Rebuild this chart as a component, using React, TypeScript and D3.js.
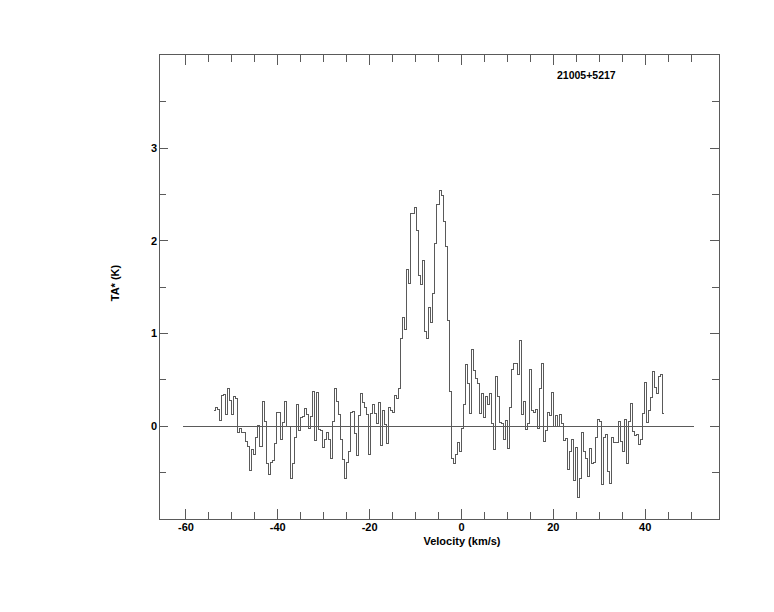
import React from "react";
import * as d3 from "d3";

// Spectrum: antenna temperature per channel (K)
const V_START = -53.95; // left edge of first channel (km/s)
const CHANNEL_WIDTH = 0.438; // km/s
const TA: number[] = [
  0.17, 0.2, 0.18, 0.06, 0.33, 0.34, 0.12, 0.41, 0.28, 0.12, 0.32, 0.3,
  -0.07, -0.03, -0.07, -0.07, -0.17, -0.22, -0.48, -0.25, -0.31, -0.12,
  0.01, -0.22, 0.26, 0.05, -0.41, -0.52, -0.39, -0.37, -0.19, 0.15,
  0.15, -0.15, 0.04, 0.26, -0.01, -0.01, -0.57, -0.4, -0.12, 0.23,
  -0.05, 0.09, 0.1, 0.19, 0.12, -0.03, 0.1, 0.37, -0.16, 0.36,
  -0.04, -0.05, -0.23, -0.15, -0.07, -0.15, -0.35, 0.05, 0.4, 0.26,
  0.12, -0.15, -0.36, -0.57, -0.39, -0.28, 0.15, 0.16, -0.08, -0.32,
  0.11, 0.35, 0.25, 0.2, 0.12, -0.31, 0.13, 0.23, 0.13, 0.03,
  0.25, -0.21, 0.17, 0.02, -0.19, 0.2, 0.17, 0.15, 0.33, 0.3,
  0.41, 0.94, 1.17, 1.04, 1.69, 1.54, 2.3, 2.29, 2.36, 2.11,
  1.63, 1.53, 1.79, 1.02, 0.95, 1.28, 1.12, 1.43,
  1.97, 2.39, 2.54, 2.49, 2.21, 1.94, 1.14, 0.37, -0.35, -0.41,
  -0.31, -0.18, -0.28, -0.03, 0.23, 0.66, 0.46, 0.13, 0.83, 0.6,
  0.51, 0.46, 0.14, 0.35, 0.09, 0.32, 0.23, 0.35, 0.03, -0.25,
  0.53, 0.32, 0.04, 0.03, -0.15, 0.06, -0.24, 0.2, 0.61, 0.67,
  0.67, 0.56, 0.92, 0.12, 0.26, -0.04, 0.03, 0.61, 0.17, 0.15,
  0.18, -0.03, 0.41, 0.67, -0.17, -0.05, 0.15, 0.11, 0.36, -0.01,
  0.11, -0.01, 0.12, 0.03, -0.16, -0.13, -0.47, -0.28, -0.15, -0.59,
  -0.23, -0.77, -0.57, -0.07, -0.27, -0.35, -0.55, -0.24, -0.4, -0.39,
  -0.12, 0.07, 0.05, -0.63, -0.12, -0.09, -0.49, -0.62, -0.12, -0.18,
  -0.18, 0.05, -0.17, -0.28, 0.07, -0.41, 0.05, 0.24, -0.06, -0.1,
  -0.09, -0.2, -0.15, 0.14, 0.47, 0.04, 0.17, 0.31, 0.59, 0.42,
  0.35, 0.53, 0.56, 0.13,
];

const X_DOMAIN: [number, number] = [-65.87, 56.08];
const Y_DOMAIN: [number, number] = [-1, 4];
const X_MAJOR = [-60, -40, -20, 0, 20, 40];
const X_MINOR = [-55, -50, -45, -35, -30, -25, -15, -10, -5, 5, 10, 15, 25, 30, 35, 45, 50];
const Y_MAJOR = [0, 1, 2, 3];
const Y_MINOR = [-0.5, 0.5, 1.5, 2.5, 3.5];
const BASELINE_RANGE: [number, number] = [-60.6, 50.7];
const TITLE = "21005+5217";
const X_LABEL = "Velocity (km/s)";
const Y_LABEL = "TA* (K)";

export default function App() {
  const W = 774, H = 612;
  const L = 159, R = 719, T = 54.5, B = 519;
  const x = d3.scaleLinear().domain(X_DOMAIN).range([L, R]);
  const y = d3.scaleLinear().domain(Y_DOMAIN).range([518.6, 55.6]);

  const pts: [number, number][] = TA.map((v, i) => [V_START + i * CHANNEL_WIDTH, v]);
  pts.push([V_START + TA.length * CHANNEL_WIDTH, TA[TA.length - 1]]);
  const line = d3
    .line<[number, number]>()
    .x((d) => x(d[0]))
    .y((d) => y(d[1]))
    .curve(d3.curveStepAfter);

  const stroke = "#5a5a5a";
  const font = "'Liberation Sans', Arial, Helvetica, sans-serif";
  const majX = 10, minX = 7, majY = 9, minY = 7;

  return (
    <svg
      width={W}
      height={H}
      style={{ position: "absolute", left: 0, top: 0, background: "#fff" }}
      fontFamily={font}
    >
      <rect x={0} y={0} width={W} height={H} fill="#fff" />
      <g shapeRendering="crispEdges">
        <rect x={L} y={T} width={R - L} height={B - T} fill="none" stroke={stroke} strokeWidth={1} />
        {X_MAJOR.map((v) => (
          <g key={"xm" + v}>
            <line x1={x(v)} x2={x(v)} y1={B} y2={B - majX} stroke={stroke} />
            <line x1={x(v)} x2={x(v)} y1={T} y2={T + majX} stroke={stroke} />
          </g>
        ))}
        {X_MINOR.map((v) => (
          <g key={"xn" + v}>
            <line x1={x(v)} x2={x(v)} y1={B} y2={B - minX} stroke={stroke} />
            <line x1={x(v)} x2={x(v)} y1={T} y2={T + minX} stroke={stroke} />
          </g>
        ))}
        {Y_MAJOR.map((v) => (
          <g key={"ym" + v}>
            <line x1={L} x2={L + majY} y1={y(v)} y2={y(v)} stroke={stroke} />
            <line x1={R} x2={R - majY} y1={y(v)} y2={y(v)} stroke={stroke} />
          </g>
        ))}
        {Y_MINOR.map((v) => (
          <g key={"yn" + v}>
            <line x1={L} x2={L + minY} y1={y(v)} y2={y(v)} stroke={stroke} />
            <line x1={R} x2={R - minY} y1={y(v)} y2={y(v)} stroke={stroke} />
          </g>
        ))}
        <line
          x1={x(BASELINE_RANGE[0])}
          x2={x(BASELINE_RANGE[1])}
          y1={y(0)}
          y2={y(0)}
          stroke={stroke}
          strokeWidth={1}
        />
        <path d={line(pts) || ""} fill="none" stroke={stroke} strokeWidth={1} />
      </g>
      {X_MAJOR.map((v) => (
        <text key={"xl" + v} x={x(v)} y={531} textAnchor="middle" fontSize={11} fontWeight="bold" fill="#000">
          {v}
        </text>
      ))}
      {Y_MAJOR.map((v) => (
        <text key={"yl" + v} x={157} y={y(v) + 4} textAnchor="end" fontSize={11} fontWeight="bold" fill="#000">
          {v}
        </text>
      ))}
      <text x={462} y={545} textAnchor="middle" fontSize={11} fontWeight="bold" fill="#000">
        {X_LABEL}
      </text>
      <text
        transform={`translate(119, 283) rotate(-90)`}
        textAnchor="middle"
        fontSize={11}
        fontWeight="bold"
        fill="#000"
      >
        {Y_LABEL}
      </text>
      <text x={557} y={79} fontSize={10.5} fontWeight="bold" fill="#000">
        {TITLE}
      </text>
    </svg>
  );
}
